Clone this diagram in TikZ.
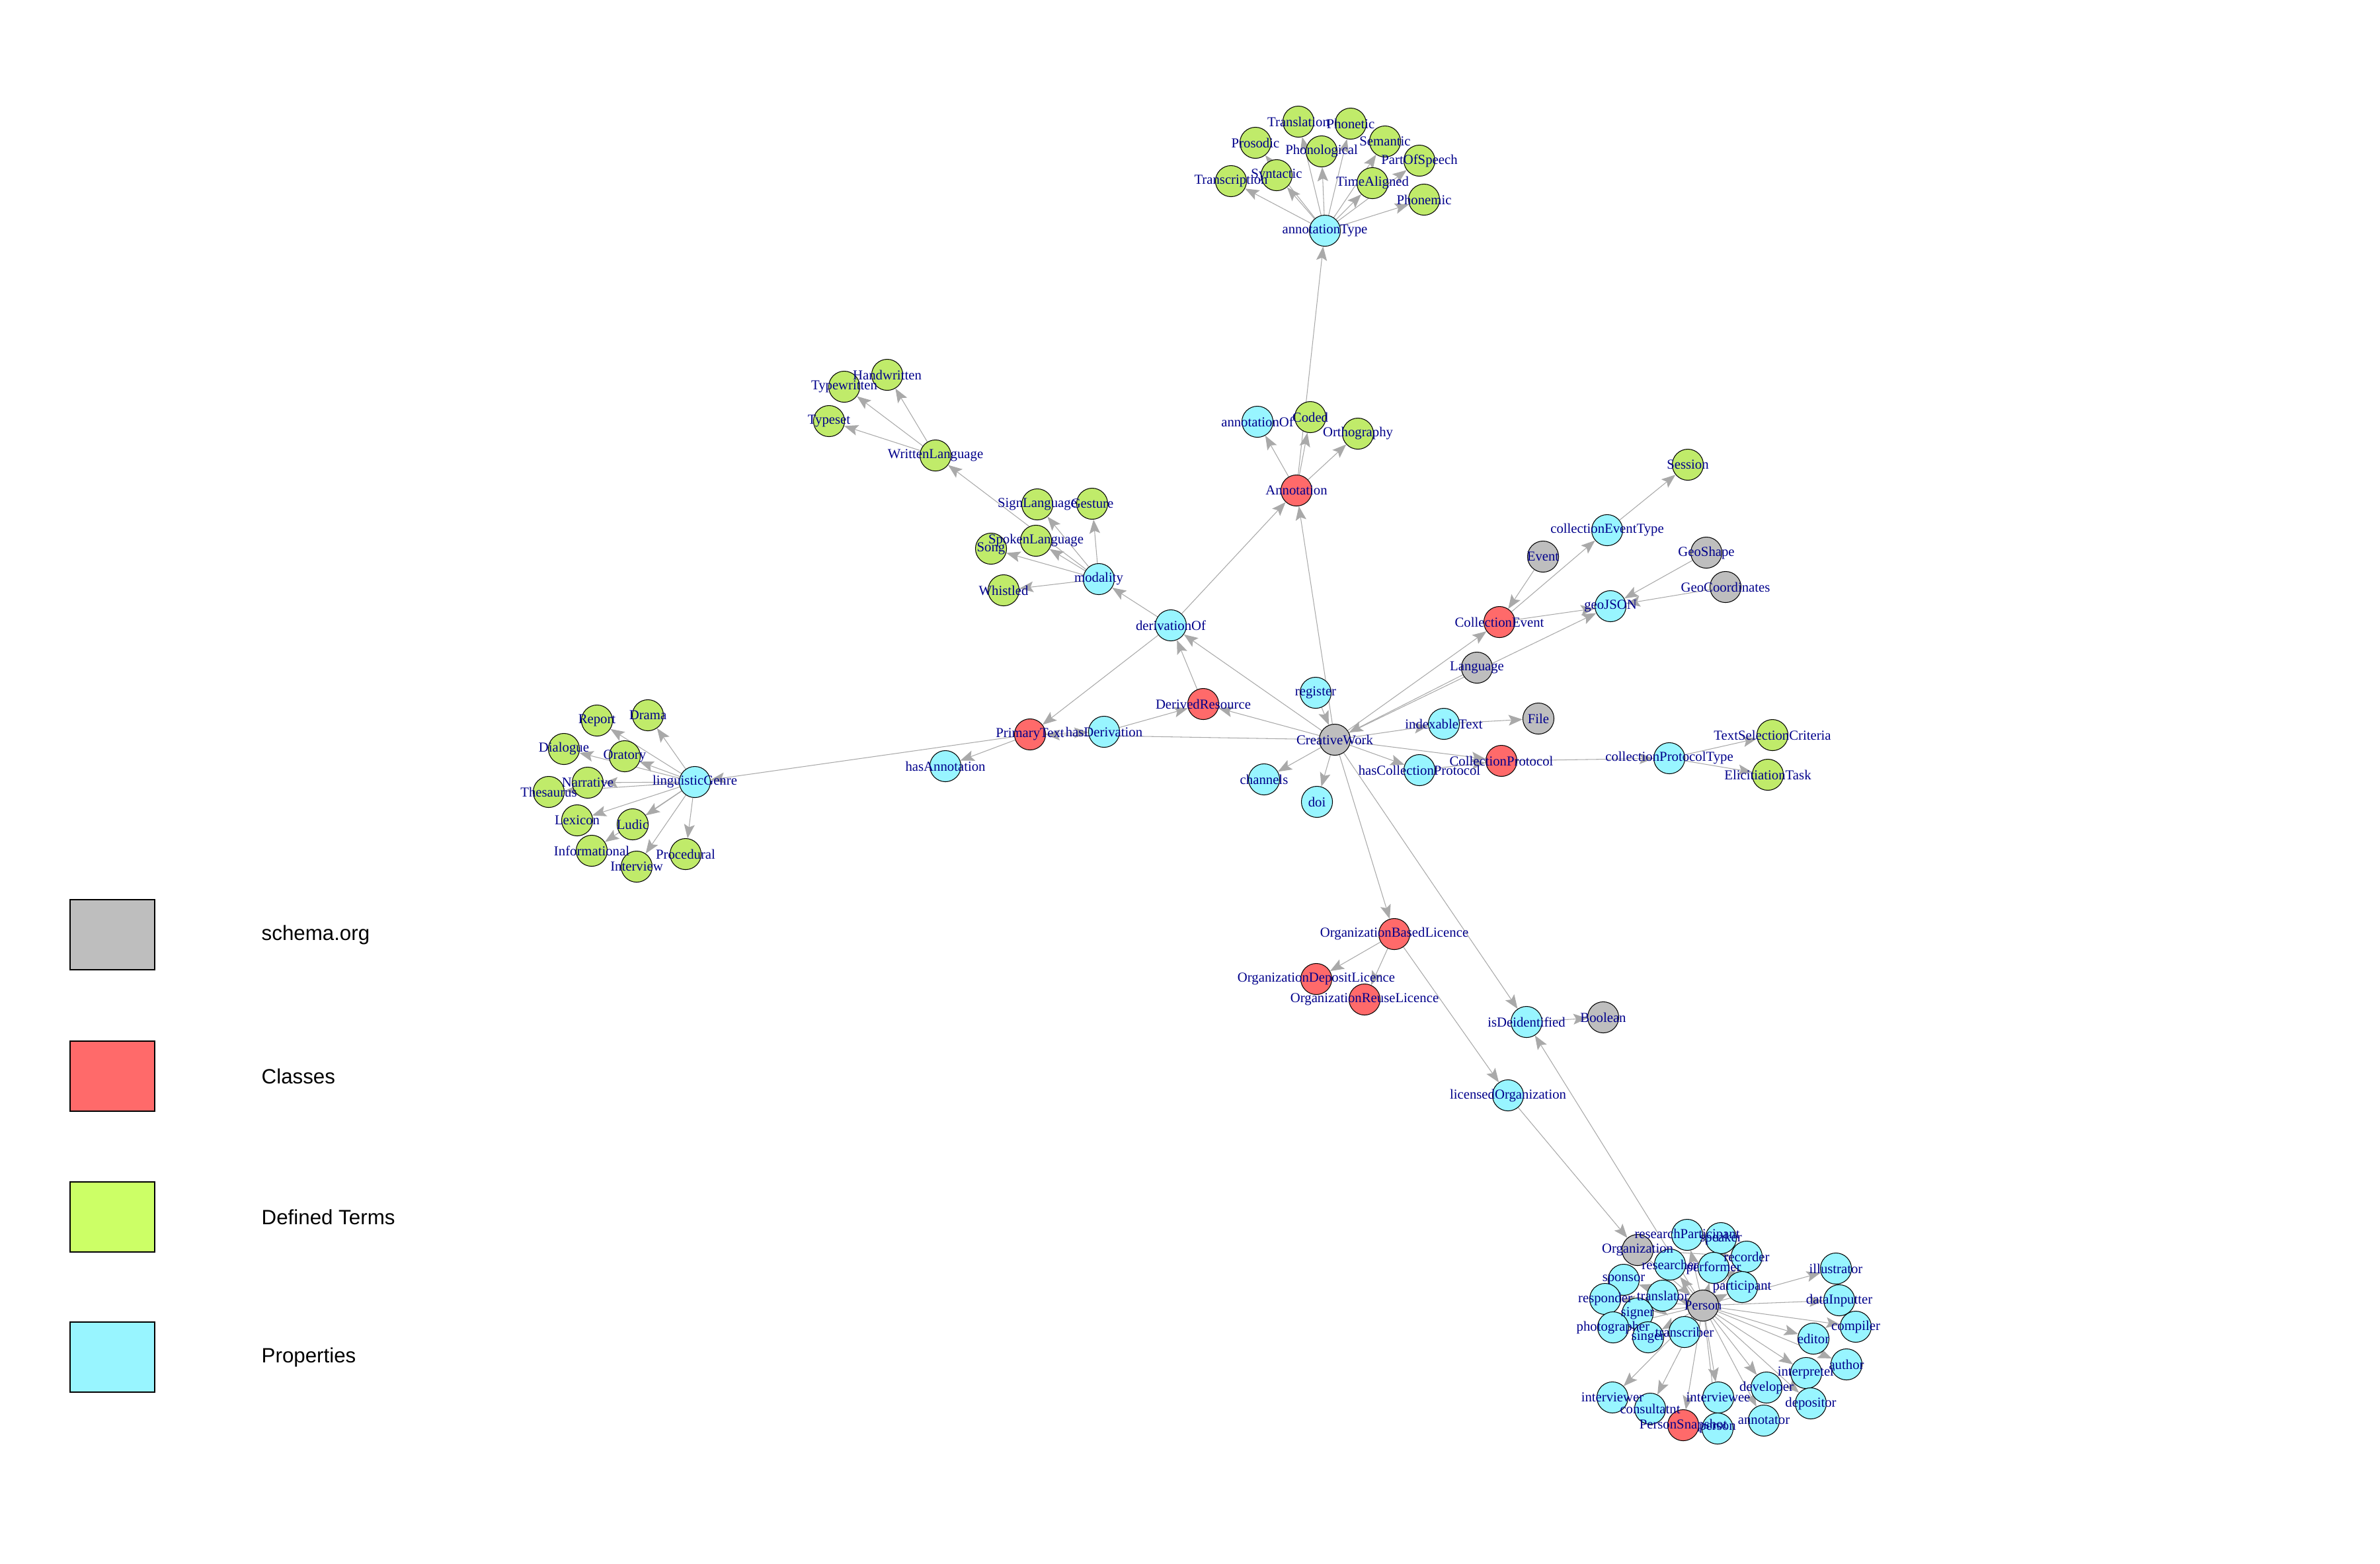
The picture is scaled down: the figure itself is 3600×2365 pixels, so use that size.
\documentclass[tikz,border=0pt]{standalone}
\usepackage{fontspec}
\setmainfont{Liberation Serif}
\newfontfamily\legendfont{Liberation Sans}
\usetikzlibrary{arrows.meta}
\definecolor{schemagray}{HTML}{BEBEBE}
\definecolor{classred}{HTML}{FF6A6A}
\definecolor{termgreen}{HTML}{C0EB6A}
\definecolor{legendgreen}{HTML}{CCFF66}
\definecolor{propcyan}{HTML}{98F5FF}
\definecolor{edgegray}{HTML}{A9A9A9}
\definecolor{labelblue}{HTML}{00008B}
\pgfdeclarelayer{edges}
\pgfsetlayers{edges,main}

\begin{document}
\begin{tikzpicture}[x=0.01cm,y=-0.01cm,>={Stealth[length=6pt,width=4.6pt,inset=1.2pt]},
    vertex/.style={shape=circle,draw=black,line width=0.3pt,minimum size=0.47cm,inner sep=0pt},
    schemanode/.style={vertex,fill=schemagray},
    classnode/.style={vertex,fill=classred},
    termnode/.style={vertex,fill=termgreen},
    propnode/.style={vertex,fill=propcyan},
    lbl/.style={text=labelblue,font=\fontsize{5.9}{6}\selectfont,inner sep=0pt},
    keybox/.style={draw=black,line width=0.4pt,minimum width=1.28cm,minimum height=1.06cm,inner sep=0pt},
    keytext/.style={anchor=west,inner sep=0pt,font=\legendfont\fontsize{8.9}{10}\selectfont},
    every edge/.style={draw=edgegray,line width=0.3pt}]
    \useasboundingbox (0,0) rectangle (3600,2365);

    % annotation types
    \node[propnode] (annotationType) at (2004,349) {};
    \node[termnode] (Transcription) at (1862,274) {};
    \node[termnode] (Syntactic) at (1931,265) {};
    \node[termnode] (Prosodic) at (1899,216) {};
    \node[termnode] (Translation) at (1964,184) {};
    \node[termnode] (Phonological) at (1999,229) {};
    \node[termnode] (Phonetic) at (2043,187) {};
    \node[termnode] (Semantic) at (2095,214) {};
    \node[termnode] (PartOfSpeech) at (2147,243) {};
    \node[termnode] (TimeAligned) at (2076,277) {};
    \node[termnode] (Phonemic) at (2154,302) {};
    \node[propnode] (annotationOf) at (1902,638) {};
    \node[termnode] (Coded) at (1982,631) {};
    \node[termnode] (Orthography) at (2054,656) {};
    \node[classnode] (Annotation) at (1961,742) {};

    % modality
    \node[termnode] (Handwritten) at (1342,567) {};
    \node[termnode] (Typewritten) at (1277,585) {};
    \node[termnode] (Typeset) at (1254,637) {};
    \node[termnode] (WrittenLanguage) at (1415,689) {};
    \node[termnode] (SignLanguage) at (1569,763) {};
    \node[termnode] (Gesture) at (1652,762) {};
    \node[termnode] (SpokenLanguage) at (1567,818) {};
    \node[termnode] (Song) at (1499,830) {};
    \node[propnode] (modality) at (1662,876) {};
    \node[termnode] (Whistled) at (1518,893) {};

    % centre
    \node[propnode] (derivationOf) at (1771,946) {};
    \node[classnode] (DerivedResource) at (1820,1065) {};
    \node[classnode] (PrimaryText) at (1558,1111) {};
    \node[propnode] (hasDerivation) at (1670,1107) {};
    \node[propnode] (hasAnnotation) at (1430,1159) {};
    \node[propnode] (register) at (1990,1048) {};
    \node[schemanode] (CreativeWork) at (2019,1119) {};
    \node[propnode] (channels) at (1912,1179) {};
    \node[propnode] (doi) at (1992,1213) {};
    \node[propnode] (indexableText) at (2184,1095) {};
    \node[schemanode] (File) at (2327,1087) {};
    \node[propnode] (hasCollectionProtocol) at (2147,1165) {};
    \node[classnode] (CollectionProtocol) at (2271,1151) {};
    \node[propnode] (collectionProtocolType) at (2525,1147) {};
    \node[termnode] (TextSelectionCriteria) at (2681,1112) {};
    \node[termnode] (ElicitiationTask) at (2674,1172) {};

    % collection event
    \node[termnode] (Session) at (2553,703) {};
    \node[propnode] (collectionEventType) at (2431,802) {};
    \node[schemanode] (Event) at (2334,842) {};
    \node[schemanode] (GeoShape) at (2581,836) {};
    \node[schemanode] (GeoCoordinates) at (2610,888) {};
    \node[propnode] (geoJSON) at (2436,917) {};
    \node[classnode] (CollectionEvent) at (2268,941) {};
    \node[schemanode] (Language) at (2234,1010) {};

    % genres
    \node[propnode] (linguisticGenre) at (1051,1183) {};
    \node[termnode] (Drama) at (980,1082) {};
    \node[termnode] (Report) at (903,1090) {};
    \node[termnode] (Dialogue) at (853,1133) {};
    \node[termnode] (Oratory) at (945,1144) {};
    \node[termnode] (Narrative) at (889,1184) {};
    \node[termnode] (Thesaurus) at (830,1198) {};
    \node[termnode] (Lexicon) at (873,1241) {};
    \node[termnode] (Ludic) at (957,1247) {};
    \node[termnode] (Informational) at (895,1287) {};
    \node[termnode] (Interview) at (963,1311) {};
    \node[termnode] (Procedural) at (1037,1292) {};

    % licences
    \node[classnode] (OrganizationBasedLicence) at (2109,1413) {};
    \node[classnode] (OrganizationDepositLicence) at (1991,1481) {};
    \node[classnode] (OrganizationReuseLicence) at (2064,1512) {};
    \node[propnode] (isDeidentified) at (2309,1546) {};
    \node[schemanode] (Boolean) at (2425,1539) {};
    \node[propnode] (licensedOrganization) at (2281,1657) {};

    % roles
    \node[schemanode] (Organization) at (2477,1891) {};
    \node[propnode] (researchParticipant) at (2552,1868) {};
    \node[propnode] (speaker) at (2603,1873) {};
    \node[propnode] (recorder) at (2642,1901) {};
    \node[propnode] (researcher) at (2526,1913) {};
    \node[propnode] (performer) at (2592,1918) {};
    \node[propnode] (sponsor) at (2456,1936) {};
    \node[propnode] (participant) at (2635,1947) {};
    \node[propnode] (responder) at (2428,1965) {};
    \node[propnode] (translator) at (2515,1960) {};
    \node[schemanode] (Person) at (2576,1975) {};
    \node[propnode] (signer) at (2477,1987) {};
    \node[propnode] (photographer) at (2440,2008) {};
    \node[propnode] (singer) at (2493,2023) {};
    \node[propnode] (transcriber) at (2548,2015) {};
    \node[propnode] (illustrator) at (2777,1919) {};
    \node[propnode] (dataInputter) at (2782,1967) {};
    \node[propnode] (compiler) at (2807,2007) {};
    \node[propnode] (editor) at (2743,2025) {};
    \node[propnode] (author) at (2793,2064) {};
    \node[propnode] (interpreter) at (2732,2077) {};
    \node[propnode] (developer) at (2672,2099) {};
    \node[propnode] (depositor) at (2739,2123) {};
    \node[propnode] (interviewer) at (2439,2114) {};
    \node[propnode] (consultatnt) at (2496,2131) {};
    \node[propnode] (interviewee) at (2599,2114) {};
    \node[propnode] (annotator) at (2668,2149) {};
    \node[classnode] (PersonSnapshot) at (2546,2156) {};
    \node[propnode] (person) at (2598,2161) {};

    \begin{pgfonlayer}{edges}
    \fill[white] (0,0) rectangle (3600,2365);
    \foreach \t in {Transcription,Syntactic,Prosodic,Translation,Phonological,Phonetic,Semantic,PartOfSpeech,TimeAligned,Phonemic}
        \path[->] (annotationType) edge (\t);
    \foreach \t in {annotationType,annotationOf,Coded,Orthography}
        \path[->] (Annotation) edge (\t);
    \foreach \t in {Handwritten,Typewritten,Typeset}
        \path[->] (WrittenLanguage) edge (\t);
    \foreach \t in {WrittenLanguage,SignLanguage,Gesture,SpokenLanguage,Song,Whistled}
        \path[->] (modality) edge (\t);
    \foreach \t in {Drama,Report,Dialogue,Oratory,Narrative,Thesaurus,Lexicon,Ludic,Informational,Interview,Procedural}
        \path[->] (linguisticGenre) edge (\t);
    \foreach \t in {Annotation,derivationOf,DerivedResource,PrimaryText,channels,doi,indexableText,hasCollectionProtocol,CollectionProtocol,CollectionEvent,geoJSON,OrganizationBasedLicence,isDeidentified}
        \path[->] (CreativeWork) edge (\t);
    \path[->] (derivationOf) edge (Annotation);
    \path[->] (derivationOf) edge (modality);
    \path[->] (derivationOf) edge (PrimaryText);
    \path[->] (DerivedResource) edge (derivationOf);
    \path[->] (hasDerivation) edge (DerivedResource);
    \path[->] (PrimaryText) edge (hasDerivation);
    \path[->] (PrimaryText) edge (hasAnnotation);
    \path[->] (PrimaryText) edge (linguisticGenre);
    \path[->] (register) edge (CreativeWork);
    \path[->] (Language) edge (CreativeWork);
    \path[->] (indexableText) edge (File);
    \path[->] (hasCollectionProtocol) edge (CollectionProtocol);
    \path[->] (CollectionProtocol) edge (collectionProtocolType);
    \path[->] (collectionProtocolType) edge (TextSelectionCriteria);
    \path[->] (collectionProtocolType) edge (ElicitiationTask);
    \path[->] (CollectionEvent) edge (collectionEventType);
    \path[->] (CollectionEvent) edge (geoJSON);
    \path[->] (Event) edge (CollectionEvent);
    \path[->] (collectionEventType) edge (Session);
    \path[->] (GeoShape) edge (geoJSON);
    \path[->] (GeoCoordinates) edge (geoJSON);
    \path[->] (OrganizationBasedLicence) edge (OrganizationDepositLicence);
    \path[->] (OrganizationBasedLicence) edge (OrganizationReuseLicence);
    \path[->] (OrganizationBasedLicence) edge (licensedOrganization);
    \path[->] (isDeidentified) edge (Boolean);
    \path[->] (licensedOrganization) edge (Organization);
    \path[->] (Person) edge (isDeidentified);
    \path[->] (Organization) edge (Person);
    \path[->] (Organization) edge (recorder);
    \foreach \t in {researchParticipant,speaker,recorder,researcher,performer,sponsor,participant,responder,translator,signer,photographer,singer,transcriber,illustrator,dataInputter,compiler,editor,author,interpreter,developer,depositor,interviewer,consultatnt,interviewee,annotator,PersonSnapshot,person}
        \path[->] (Person) edge (\t);
    \end{pgfonlayer}

    % labels on top
    \foreach \n in {annotationType,Transcription,Syntactic,Prosodic,Translation,Phonological,Phonetic,Semantic,PartOfSpeech,TimeAligned,Phonemic,annotationOf,Coded,Orthography,Annotation,
        Handwritten,Typewritten,Typeset,WrittenLanguage,SignLanguage,Gesture,SpokenLanguage,Song,modality,Whistled,
        derivationOf,DerivedResource,PrimaryText,hasDerivation,hasAnnotation,register,CreativeWork,channels,doi,indexableText,File,hasCollectionProtocol,CollectionProtocol,collectionProtocolType,TextSelectionCriteria,ElicitiationTask,
        Session,collectionEventType,Event,GeoShape,GeoCoordinates,geoJSON,CollectionEvent,Language,
        linguisticGenre,Drama,Report,Dialogue,Oratory,Narrative,Thesaurus,Lexicon,Ludic,Informational,Interview,Procedural,
        OrganizationBasedLicence,OrganizationDepositLicence,OrganizationReuseLicence,isDeidentified,Boolean,licensedOrganization,
        Organization,researchParticipant,speaker,recorder,researcher,performer,sponsor,participant,responder,translator,Person,signer,photographer,singer,transcriber,illustrator,dataInputter,compiler,editor,author,interpreter,developer,depositor,interviewer,consultatnt,interviewee,annotator,PersonSnapshot,person}
        \node[lbl] at (\n) {\n};

    % legend
    \node[keybox,fill=schemagray] (keySchema) at (170,1414) {};
    \node[keybox,fill=classred] (keyClass) at (170,1628) {};
    \node[keybox,fill=legendgreen] (keyTerm) at (170,1841) {};
    \node[keybox,fill=propcyan] (keyProp) at (170,2053) {};
    \node[keytext] at (395,1414) {schema.org};
    \node[keytext] at (395,1628) {Classes};
    \node[keytext] at (395,1841) {Defined Terms};
    \node[keytext] at (395,2053) {Properties};
\end{tikzpicture}
\end{document}
